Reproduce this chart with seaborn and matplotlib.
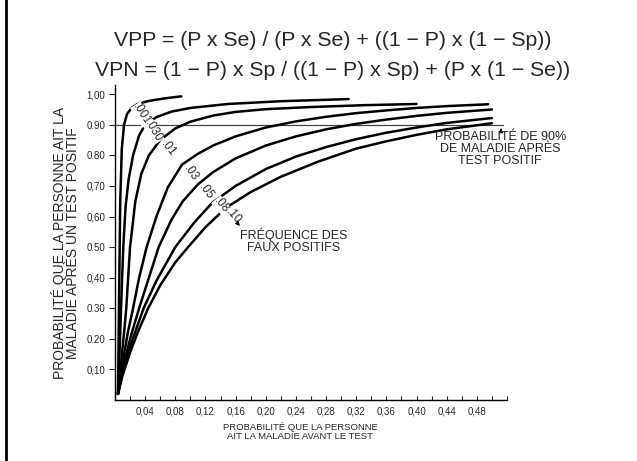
import matplotlib
matplotlib.use("Agg")
import matplotlib.pyplot as plt
import seaborn as sns
import pandas as pd
from matplotlib.lines import Line2D
from matplotlib.ticker import MultipleLocator

# courbes : frequence des faux positifs -> (x, y)
fp_labels = [".001", ".030", ".01", ".03", ".05", ".08", ".10"]

x_001 = [0.004, 0.0055, 0.007, 0.009, 0.012, 0.016, 0.022, 0.030, 0.045, 0.065, 0.088]
y_001 = [0.02, 0.35, 0.65, 0.82, 0.90, 0.935, 0.955, 0.968, 0.978, 0.986, 0.993]

x_030 = [0.004, 0.006, 0.008, 0.011, 0.014, 0.018, 0.024, 0.032, 0.04, 0.055, 0.075, 0.10, 0.15, 0.22, 0.31]
y_030 = [0.02, 0.15, 0.30, 0.50, 0.63, 0.72, 0.80, 0.865, 0.90, 0.925, 0.943, 0.955, 0.968, 0.977, 0.984]

x_01 = [0.004, 0.008, 0.012, 0.015, 0.02, 0.027, 0.035, 0.045, 0.06, 0.08, 0.10, 0.13, 0.16, 0.20, 0.26, 0.33, 0.40]
y_01 = [0.02, 0.12, 0.22, 0.30, 0.50, 0.65, 0.74, 0.80, 0.85, 0.888, 0.91, 0.93, 0.942, 0.951, 0.958, 0.964, 0.968]

x_03 = [0.004, 0.01, 0.017, 0.024, 0.032, 0.042, 0.055, 0.07, 0.089, 0.11, 0.13, 0.16, 0.20, 0.24, 0.28, 0.32, 0.36, 0.40, 0.44, 0.495]
y_03 = [0.02, 0.12, 0.22, 0.30, 0.40, 0.50, 0.60, 0.695, 0.77, 0.805, 0.832, 0.862, 0.891, 0.911, 0.926, 0.938, 0.947, 0.955, 0.961, 0.967]

x_05 = [0.004, 0.01, 0.02, 0.032, 0.045, 0.058, 0.075, 0.09, 0.11, 0.13, 0.16, 0.20, 0.24, 0.28, 0.32, 0.36, 0.40, 0.44, 0.50]
y_05 = [0.02, 0.10, 0.20, 0.30, 0.40, 0.50, 0.59, 0.65, 0.705, 0.745, 0.79, 0.832, 0.862, 0.885, 0.903, 0.917, 0.929, 0.939, 0.950]

x_08 = [0.004, 0.01, 0.02, 0.038, 0.055, 0.08, 0.105, 0.129, 0.16, 0.20, 0.24, 0.28, 0.32, 0.36, 0.40, 0.44, 0.50]
y_08 = [0.02, 0.09, 0.175, 0.30, 0.39, 0.50, 0.58, 0.645, 0.70, 0.755, 0.796, 0.827, 0.853, 0.874, 0.891, 0.906, 0.922]

x_10 = [0.004, 0.01, 0.02, 0.03, 0.044, 0.06, 0.08, 0.097, 0.12, 0.147, 0.18, 0.22, 0.27, 0.32, 0.36, 0.40, 0.44, 0.50]
y_10 = [0.02, 0.08, 0.155, 0.22, 0.30, 0.375, 0.45, 0.50, 0.565, 0.628, 0.68, 0.73, 0.78, 0.822, 0.846, 0.867, 0.885, 0.905]

curves = [(x_001, y_001), (x_030, y_030), (x_01, y_01), (x_03, y_03),
          (x_05, y_05), (x_08, y_08), (x_10, y_10)]

# etiquettes des courbes (position, rotation)
lab_x = [0.035, 0.051, 0.071, 0.101, 0.121, 0.141, 0.157]
lab_y = [0.933, 0.877, 0.822, 0.740, 0.682, 0.636, 0.600]
lab_rot = [-58, -60, -52, -57, -54, -50, -50]

yticks = [0.10, 0.20, 0.30, 0.40, 0.50, 0.60, 0.70, 0.80, 0.90, 1.00]
ytick_labels = ["0,10", "0.20", "0.30", "0,40", "0.50", "0,60", "0,70", "0.80", "0.90", "1,00"]
xticks = [0.04, 0.08, 0.12, 0.16, 0.20, 0.24, 0.28, 0.32, 0.36, 0.40, 0.44, 0.48]
xtick_labels = ["0,04", "0,08", "0,12", "0,16", "0,20", "0,24", "0,28", "0,32", "0,36", "0,40", "0,44", "0,48"]

sns.set_style("white")
plt.rcParams['font.family'] = ['Liberation Sans', 'DejaVu Sans']

fig = plt.figure(figsize=(6.37, 4.61), dpi=100)
ax = fig.add_axes([0.1805, 0.1323, 0.6154, 0.6833])

rows = []
for lab, (xs, ys) in zip(fp_labels, curves):
    for xv, yv in zip(xs, ys):
        rows.append({"fp": lab, "p": xv, "vpp": yv})
df = pd.DataFrame(rows)

sns.lineplot(data=df, x="p", y="vpp", units="fp", estimator=None, sort=False,
             color="black", lw=1.8, ax=ax, legend=False)

ax.axhline(0.90, xmin=0, xmax=0.99, color="#444444", lw=0.9, zorder=1)

for t, xv, yv, r in zip(fp_labels, lab_x, lab_y, lab_rot):
    ax.text(xv, yv, t, rotation=r, fontsize=8.5, ha="center", va="center",
            bbox=dict(facecolor="white", edgecolor="none", pad=0.1))

ax.annotate("", xy=(0.168, 0.562), xytext=(0.161, 0.583),
            arrowprops=dict(arrowstyle="-|>", color="black", lw=0.8, mutation_scale=6))
ax.text(0.237, 0.521, "FRÉQUENCE DES\nFAUX POSITIFS", fontsize=9,
        ha="center", va="center", linespacing=1.0)

ax.annotate("", xy=(0.512, 0.898), xytext=(0.512, 0.873),
            arrowprops=dict(arrowstyle="-|>", color="black", lw=0.8, mutation_scale=6))
ax.text(0.511, 0.822, "PROBABILITÉ DE 90%\nDE MALADIE APRÈS\nTEST POSITIF", fontsize=9,
        ha="center", va="center", linespacing=1.0)

ax.set_xlim(0, 0.52)
ax.set_ylim(0, 1.03)
ax.set_xticks(xticks)
ax.set_xticklabels(xtick_labels)
ax.xaxis.set_minor_locator(MultipleLocator(0.02))
ax.set_yticks(yticks)
ax.set_yticklabels(ytick_labels)
ax.tick_params(axis="x", which="both", direction="in", length=3, width=0.8,
               labelsize=7, pad=5, bottom=True)
ax.tick_params(axis="y", direction="out", length=4, width=0.8, labelsize=7, pad=3, left=True)
for s in ["top", "right"]:
    ax.spines[s].set_visible(False)
for s in ["left", "bottom"]:
    ax.spines[s].set_color("black")
    ax.spines[s].set_linewidth(1.0)
ax.set_xlabel("")
ax.set_ylabel("")

fig.text(0.523, 0.913, "VPP = (P x Se) / (P x Se) + ((1 − P) x (1 − Sp))",
         fontsize=15.3, ha="center", va="center")
fig.text(0.522, 0.848, "VPN = (1 − P) x Sp / ((1 − P) x Sp) + (P x (1 − Se))",
         fontsize=15.3, ha="center", va="center")

fig.text(0.103, 0.473, "PROBABILITÉ QUE LA PERSONNE AIT LA\nMALADIE APRÈS UN TEST POSITIF",
         rotation=90, fontsize=10, ha="center", va="center", linespacing=0.95)
fig.text(0.471, 0.064, "PROBABILITÉ QUE LA PERSONNE\nAIT LA MALADIE AVANT LE TEST",
         fontsize=6.8, ha="center", va="center", linespacing=1.05)

# bord noir du scan a gauche
fig.add_artist(Line2D([0.0094, 0.0094], [0, 1], transform=fig.transFigure, color="black", lw=2))

fig.savefig("out.png", dpi=100)
